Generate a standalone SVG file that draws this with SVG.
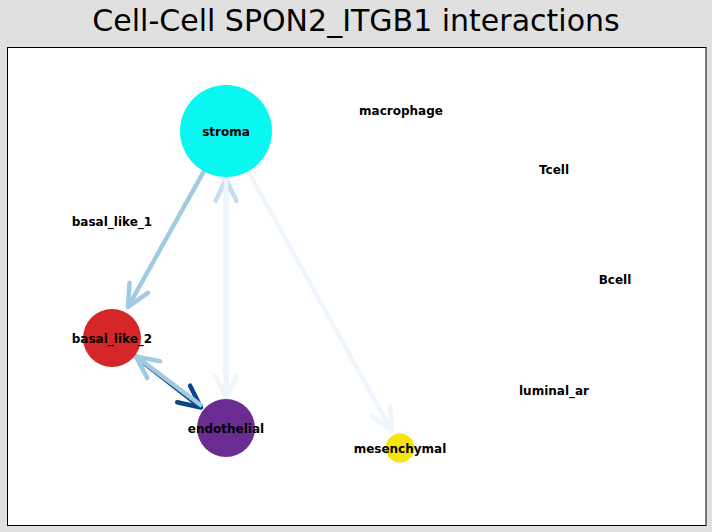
<svg xmlns="http://www.w3.org/2000/svg" width="712" height="532" viewBox="0 0 712 532">
<style>
.lbl{font-family:"DejaVu Sans","Liberation Sans",sans-serif;font-weight:bold;font-size:12px;fill:#000;text-anchor:middle}
.title{font-family:"DejaVu Sans","Liberation Sans",sans-serif;font-size:30px;fill:#000;text-anchor:middle}
.e{fill:none;stroke-width:4.5;stroke-linecap:butt}
.h{fill:none;stroke-width:4.5;stroke-linecap:round;stroke-linejoin:round}
</style>
<defs>
<marker id="hDark" markerUnits="userSpaceOnUse" refX="0" refY="0" markerWidth="1" markerHeight="1" orient="auto" overflow="visible"><path class="h" d="M-22,-10.5 L0,0 L-22,10.5" stroke="#08468b"/></marker>
<marker id="hLight" markerUnits="userSpaceOnUse" refX="0" refY="0" markerWidth="1" markerHeight="1" orient="auto" overflow="visible"><path class="h" d="M-22,-10.5 L0,0 L-22,10.5" stroke="#a1cbe2"/></marker>
<marker id="hMid" markerUnits="userSpaceOnUse" refX="0" refY="0" markerWidth="1" markerHeight="1" orient="auto" overflow="visible"><path class="h" d="M-22,-10.5 L0,0 L-22,10.5" stroke="#c8dcf0"/></marker>
<marker id="hPale" markerUnits="userSpaceOnUse" refX="0" refY="0" markerWidth="1" markerHeight="1" orient="auto" overflow="visible"><path class="h" d="M-22,-10.5 L0,0 L-22,10.5" stroke="#eef5fc"/></marker>
</defs>
<rect x="0" y="0" width="712" height="532" fill="#e0e0e0"/>
<text class="title" x="356" y="31">Cell-Cell SPON2_ITGB1 interactions</text>
<rect x="7.5" y="47.5" width="698.5" height="478" fill="#fff" stroke="#000" stroke-width="1"/>
<g id="connectors">
<path class="e" d="M204,171 L128,307" stroke="#a1cbe2" marker-end="url(#hLight)"/>
<path class="e" d="M226,399 L226,179" stroke="#c8dcf0" marker-end="url(#hMid)"/>
<path class="e" d="M226,177 L226,398" stroke="#eef5fc" marker-end="url(#hPale)"/>
<path class="e" d="M248,171 L391.5,430.5" stroke="#eef5fc" marker-end="url(#hPale)"/>
<path class="e" d="M135,356 L201,407.5" stroke="#08468b" marker-end="url(#hDark)"/>
<path class="e" d="M202,406 L136,356.5" stroke="#a1cbe2" marker-end="url(#hLight)"/>
</g>
<g id="stroma"><circle cx="226" cy="131" r="46" fill="#08f7f0"/><text class="lbl" x="226" y="135.5">stroma</text></g>
<g id="macrophage"><text class="lbl" x="401" y="114.5">macrophage</text></g>
<g id="Tcell"><text class="lbl" x="554" y="173.5">Tcell</text></g>
<g id="basal_like_1"><text class="lbl" x="112" y="225.5">basal_like_1</text></g>
<g id="Bcell"><text class="lbl" x="615" y="283.5">Bcell</text></g>
<g id="basal_like_2"><circle cx="112" cy="338" r="29" fill="#d62728"/><text class="lbl" x="112" y="342.5">basal_like_2</text></g>
<g id="luminal_ar"><text class="lbl" x="554" y="394.5">luminal_ar</text></g>
<g id="endothelial"><circle cx="226" cy="428" r="29" fill="#6a2c91"/><text class="lbl" x="226" y="432.5">endothelial</text></g>
<g id="mesenchymal"><circle cx="400" cy="448" r="14.5" fill="#f5e50a"/><text class="lbl" x="400" y="452.5">mesenchymal</text></g>
</svg>
